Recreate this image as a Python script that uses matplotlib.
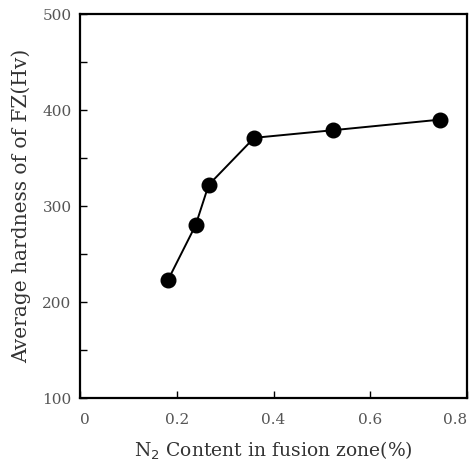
import matplotlib.pyplot as plt

# N2 content (%) vs average hardness of fusion zone (Hv)
n2_content = [0.182, 0.239, 0.266, 0.360, 0.524, 0.745]
hardness = [223, 280, 322, 371, 379, 390]

x_ticks = [0, 0.2, 0.4, 0.6, 0.8]
x_labels = ['0', '0.2', '0.4', '0.6', '0.8']
y_major = [100, 200, 300, 400, 500]
y_minor = [150, 250, 350, 450]

plt.rcParams['font.family'] = ['DejaVu Serif']

fig = plt.figure(figsize=(4.71, 4.66), dpi=100)
ax = fig.add_axes([80 / 471, 68 / 466, 387 / 471, 384 / 466])

ax.plot(n2_content, hardness, '-', color='black', lw=1.4,
        marker='o', markersize=10.5, markerfacecolor='black', clip_on=False)

ax.set_xlim(0, 0.8)
ax.set_ylim(100, 500)

ax.set_xticks(x_ticks)
ax.set_xticklabels(x_labels)
ax.set_yticks(y_major)
ax.set_yticks(y_minor, minor=True)

ax.tick_params(axis='both', which='both', direction='in', colors='black',
               labelcolor='#555555', labelsize=11, width=1.0)
ax.tick_params(axis='x', length=5, pad=11)
ax.tick_params(axis='y', which='both', length=5, pad=6)

labels = ax.get_xticklabels()
labels[0].set_ha('left')
labels[-1].set_ha('right')

for s in ax.spines.values():
    s.set_linewidth(1.6)

ax.set_xlabel('N$_2$ Content in fusion zone(%)', fontsize=13.5,
              color='#333333', labelpad=9)
ax.set_ylabel('Average hardness of of FZ(Hv)', fontsize=14.5,
              color='#333333', labelpad=8)

fig.savefig('out.png', dpi=100)
